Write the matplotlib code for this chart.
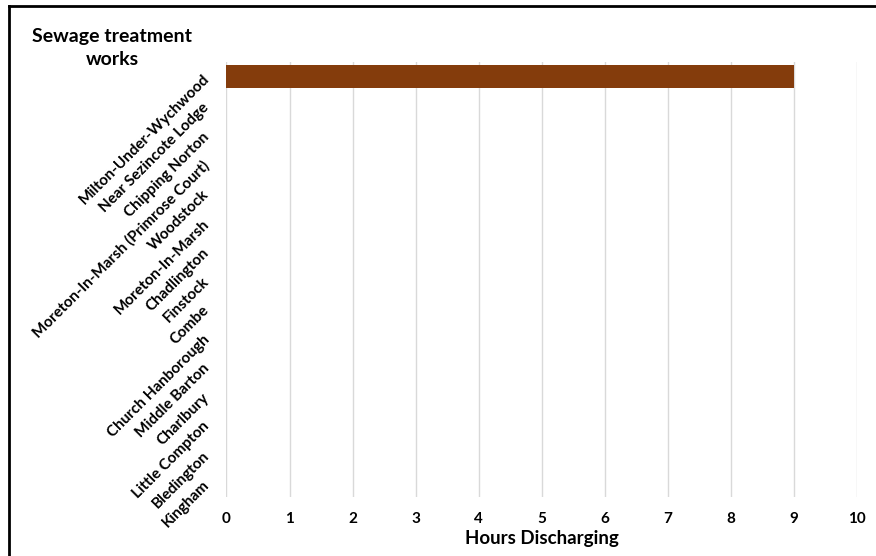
import matplotlib.pyplot as plt
from matplotlib.lines import Line2D

plt.rcParams["font.family"] = ["Lato", "DejaVu Sans"]

works = [
    "Milton-Under-Wychwood", "Near Sezincote Lodge", "Chipping Norton",
    "Moreton-In-Marsh (Primrose Court)", "Woodstock", "Moreton-In-Marsh",
    "Chadlington", "Finstock", "Combe", "Church Hanborough", "Middle Barton",
    "Charlbury", "Little Compton", "Bledington", "Kingham",
]
hours = [9, 0, 0, 0, 0, 0, 0, 0, 0, 0, 0, 0, 0, 0, 0]
x_ticks = list(range(0, 11))

fig = plt.figure(figsize=(8.76, 5.56), dpi=100)
ax = fig.add_axes([226.5 / 876, 59 / 556, (857 - 226.5) / 876, (497 - 62) / 556])

pos = list(range(len(works)))
ax.barh(pos, hours, height=0.8, color="#843C0C", zorder=3)
ax.set_ylim(len(works) - 0.5, -0.5)
ax.set_xlim(0, 10)
ax.set_xticks(x_ticks)
ax.set_xticklabels([str(t) for t in x_ticks], fontsize=11, fontweight="bold")
ax.tick_params(axis="x", length=0, pad=11)
ax.tick_params(axis="y", length=0)
ax.grid(axis="x", color="#d9d9d9", lw=1, zorder=0)
for s in ax.spines.values():
    s.set_visible(False)

ax.set_yticks(pos)
ax.set_yticklabels(works, fontsize=11, fontweight="bold", rotation=45,
                   rotation_mode="anchor", ha="right", va="center")
ax.tick_params(axis="y", pad=14)

ax.set_xlabel("Hours Discharging", fontsize=13.5, fontweight="bold", labelpad=3)

fig.text(112 / 876, 1 - 48 / 556, "Sewage treatment\nworks", ha="center", va="center",
         fontsize=14, fontweight="bold", linespacing=1.45)

# frame lines along the left and top edges
fig.add_artist(Line2D([9 / 876, 9 / 876], [0, 1 - 6 / 556], color="black", lw=2,
                      transform=fig.transFigure))
fig.add_artist(Line2D([9 / 876, 1], [1 - 6 / 556, 1 - 6 / 556], color="black", lw=2,
                      transform=fig.transFigure))

fig.savefig("out.png", dpi=100)
